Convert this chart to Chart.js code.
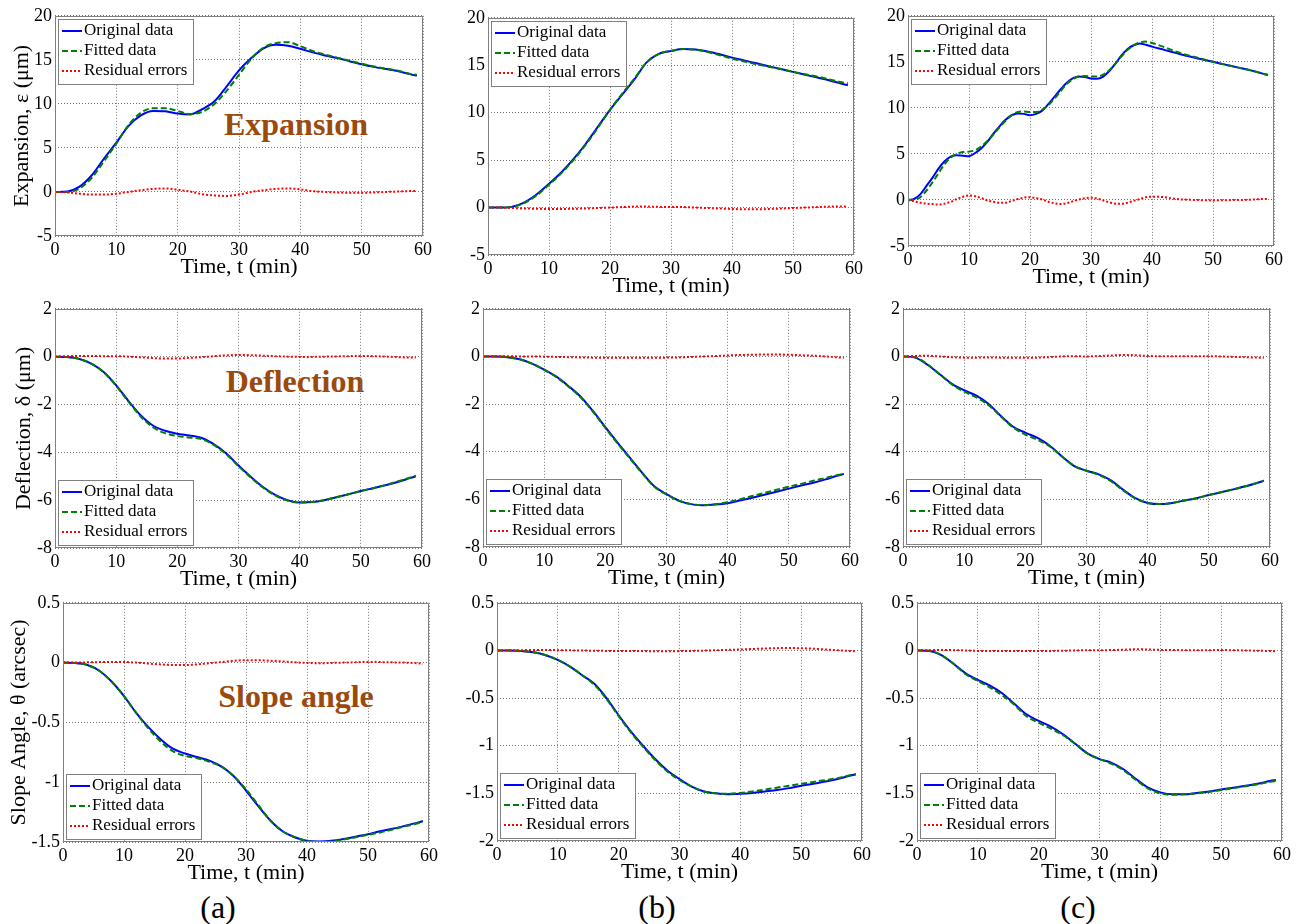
<!DOCTYPE html>
<html>
<head>
<meta charset="utf-8">
<script src="https://cdn.jsdelivr.net/npm/chart.js@4.4.1/dist/chart.umd.min.js"></script>
<style>
body{margin:0;background:#fff;width:1303px;height:924px;position:relative;overflow:hidden;font-family:'Liberation Serif','Times New Roman',serif;}
canvas{position:absolute;}
.tag{position:absolute;font-weight:bold;color:#9c4a0c;font-size:32px;line-height:32px;white-space:nowrap;transform:translateX(-50%);}
.sub{position:absolute;font-size:32px;line-height:32px;white-space:nowrap;transform:translateX(-50%);}
</style>
</head>
<body>
<div class="tag" style="left:296px;top:108px">Expansion</div>
<div class="tag" style="left:295px;top:365px">Deflection</div>
<div class="tag" style="left:296px;top:680px">Slope angle</div>
<div class="sub" style="left:218px;top:891px">(a)</div>
<div class="sub" style="left:657px;top:891px">(b)</div>
<div class="sub" style="left:1078px;top:891px">(c)</div>
<script>
// time grids (min)
const time = [0,2,4,6,8,10,12,14,16,18,20,22,24,26,28,30,32,34,36,38,40,42,44,46,48,50,52,54,56,58,59];
const timeFine = [0,1,2,3,4,5,6,7,8,9,10,11,12,13,14,15,16,17,18,19,20,21,22,23,24,25,26,27,28,29,30,31,32,33,34,35,36,37,38,39,40,42,44,46,48,50,52,54,56,58,59];
const xTicks = [0,10,20,30,40,50,60];
const legendLabels = ['Original data','Fitted data','Residual errors'];

// Expansion (um)
const expA_orig = [0,0.05,0.6,1.9,3.8,5.6,7.5,8.7,9.2,9.15,8.9,8.8,9.4,10.3,12.0,13.8,15.2,16.3,16.7,16.6,16.25,15.85,15.5,15.2,14.85,14.5,14.2,13.95,13.7,13.35,13.2];
const expA_fit  = [0,0,0.4,1.6,3.5,5.5,7.6,9.0,9.5,9.5,9.2,8.85,9.1,10.0,11.5,13.3,15.1,16.4,16.9,17.0,16.55,16.0,15.6,15.25,14.9,14.55,14.25,14.0,13.75,13.4,13.3];
const expA_res  = [0,-0.05,-0.2,-0.3,-0.3,-0.2,0,0.2,0.35,0.4,0.25,0.05,-0.25,-0.4,-0.45,-0.3,0,0.2,0.35,0.4,0.3,0.1,0,-0.05,-0.1,-0.1,-0.05,0,0.05,0.1,0.1];
const expB_orig = [0,0,0.1,0.55,1.4,2.5,3.7,5.1,6.7,8.5,10.3,11.9,13.5,15.3,16.2,16.5,16.7,16.65,16.45,16.15,15.8,15.5,15.2,14.9,14.6,14.3,14.0,13.7,13.4,13.05,12.9];
const expB_fit  = [0,0,0.08,0.5,1.3,2.4,3.6,5.0,6.6,8.4,10.3,12.0,13.6,15.3,16.2,16.5,16.7,16.65,16.4,16.05,15.7,15.4,15.1,14.85,14.6,14.3,14.05,13.8,13.5,13.2,13.1];
const expB_res  = [0,0,-0.05,-0.1,-0.12,-0.15,-0.15,-0.12,-0.1,-0.05,0,0.05,0.1,0.1,0.08,0.05,0.05,0,-0.05,-0.1,-0.15,-0.18,-0.18,-0.15,-0.1,-0.05,0,0.05,0.1,0.1,0.1];
const expC_orig = [0,0.1,0.6,1.5,2.4,3.4,4.2,4.7,4.85,4.8,4.75,5.1,5.6,6.3,7.2,8.0,8.7,9.2,9.4,9.35,9.2,9.35,9.7,10.4,11.2,12.0,12.7,13.2,13.4,13.35,13.2,13.15,13.4,14.0,14.8,15.7,16.4,16.8,17.0,16.85,16.65,16.3,15.95,15.6,15.3,15.0,14.7,14.4,14.1,13.75,13.55];
const expC_fit  = [0,0,0.3,1.0,1.9,2.9,3.9,4.6,5.0,5.2,5.25,5.4,5.8,6.4,7.1,7.9,8.6,9.2,9.55,9.6,9.55,9.55,9.8,10.3,11.0,11.8,12.6,13.1,13.4,13.45,13.4,13.4,13.6,14.1,14.8,15.6,16.3,16.8,17.1,17.2,17.05,16.6,16.1,15.7,15.35,15.0,14.7,14.4,14.1,13.75,13.55];
const expC_res  = [0,-0.15,-0.3,-0.4,-0.45,-0.5,-0.4,-0.2,0.1,0.35,0.5,0.4,0.2,-0.05,-0.2,-0.3,-0.3,-0.1,0.1,0.25,0.3,0.2,0.05,-0.2,-0.35,-0.45,-0.35,-0.15,0.05,0.2,0.25,0.15,-0.05,-0.25,-0.4,-0.4,-0.3,-0.1,0.1,0.3,0.35,0.3,0.1,0.02,-0.02,-0.05,-0.03,0,0.02,0.1,0.1];

// Deflection (um)
const defA_orig = [0,-0.02,-0.1,-0.3,-0.65,-1.2,-1.85,-2.45,-2.88,-3.1,-3.22,-3.3,-3.4,-3.67,-4.05,-4.55,-5.02,-5.45,-5.78,-6.0,-6.1,-6.08,-6.0,-5.88,-5.75,-5.62,-5.5,-5.38,-5.24,-5.08,-5.0];
const defA_fit  = [0,-0.02,-0.1,-0.3,-0.66,-1.22,-1.88,-2.5,-2.95,-3.2,-3.32,-3.38,-3.45,-3.7,-4.08,-4.58,-5.05,-5.47,-5.8,-6.02,-6.1,-6.08,-6.0,-5.88,-5.75,-5.62,-5.5,-5.37,-5.22,-5.06,-4.98];
const defA_res  = [0,0.02,0.03,0.03,0.02,0.02,0,-0.03,-0.06,-0.08,-0.08,-0.05,-0.02,0.02,0.05,0.07,0.06,0.04,0.02,0,-0.01,-0.01,0,0.01,0.02,0.03,0.02,0,-0.02,-0.04,-0.04];
const defB_orig = [0,0,-0.03,-0.12,-0.3,-0.55,-0.85,-1.25,-1.7,-2.3,-2.97,-3.62,-4.25,-4.88,-5.45,-5.78,-6.05,-6.2,-6.25,-6.22,-6.16,-6.05,-5.93,-5.81,-5.68,-5.55,-5.42,-5.3,-5.16,-5.0,-4.93];
const defB_fit  = [0,0,-0.03,-0.12,-0.3,-0.56,-0.87,-1.27,-1.73,-2.33,-3.0,-3.65,-4.28,-4.9,-5.47,-5.8,-6.06,-6.2,-6.24,-6.2,-6.12,-6.0,-5.86,-5.73,-5.6,-5.47,-5.35,-5.22,-5.1,-4.98,-4.93];
const defB_res  = [0,0.01,0.01,0,0,-0.01,-0.02,-0.03,-0.04,-0.05,-0.06,-0.06,-0.06,-0.06,-0.06,-0.05,-0.04,-0.02,0,0.02,0.04,0.06,0.07,0.08,0.08,0.07,0.05,0.03,0,-0.04,-0.05];
const defC_orig = [0,-0.05,-0.35,-0.75,-1.15,-1.42,-1.65,-2.0,-2.5,-2.95,-3.2,-3.42,-3.75,-4.2,-4.6,-4.8,-4.95,-5.2,-5.6,-5.95,-6.15,-6.2,-6.15,-6.05,-5.95,-5.82,-5.7,-5.58,-5.45,-5.3,-5.22];
const defC_fit  = [0,-0.04,-0.33,-0.75,-1.18,-1.48,-1.72,-2.05,-2.52,-2.98,-3.28,-3.5,-3.78,-4.2,-4.6,-4.8,-4.97,-5.24,-5.62,-5.96,-6.15,-6.2,-6.15,-6.05,-5.95,-5.82,-5.7,-5.58,-5.45,-5.3,-5.22];
const defC_res  = [0,0.02,0.03,0,-0.03,-0.05,-0.05,-0.04,-0.05,-0.06,-0.06,-0.05,-0.03,0,0.01,0,0.02,0.04,0.06,0.05,0.02,0.01,0.01,0.01,0.01,0.01,0,-0.02,-0.03,-0.05,-0.05];

// Slope angle (arcsec)
const slpA_orig = [0,-0.003,-0.02,-0.07,-0.16,-0.28,-0.42,-0.54,-0.64,-0.72,-0.76,-0.79,-0.82,-0.87,-0.95,-1.07,-1.2,-1.32,-1.41,-1.46,-1.49,-1.495,-1.49,-1.475,-1.455,-1.435,-1.41,-1.39,-1.365,-1.34,-1.325];
const slpA_fit  = [0,-0.003,-0.02,-0.07,-0.16,-0.28,-0.42,-0.55,-0.66,-0.74,-0.78,-0.8,-0.83,-0.87,-0.95,-1.06,-1.19,-1.32,-1.41,-1.46,-1.49,-1.5,-1.495,-1.48,-1.46,-1.44,-1.42,-1.395,-1.37,-1.345,-1.33];
const slpA_res  = [0,0,0.002,0.004,0.005,0.005,0,-0.008,-0.015,-0.02,-0.02,-0.015,-0.005,0.005,0.015,0.02,0.02,0.015,0.01,0.002,-0.003,-0.005,-0.003,0,0.003,0.005,0.004,0.002,0,-0.005,-0.01];
const slpB_orig = [0,0,-0.005,-0.02,-0.05,-0.1,-0.17,-0.26,-0.35,-0.5,-0.68,-0.85,-1.0,-1.14,-1.26,-1.35,-1.43,-1.48,-1.5,-1.51,-1.505,-1.495,-1.48,-1.465,-1.445,-1.42,-1.4,-1.375,-1.35,-1.315,-1.3];
const slpB_fit  = [0,0,-0.005,-0.02,-0.05,-0.1,-0.17,-0.26,-0.36,-0.51,-0.69,-0.86,-1.01,-1.15,-1.27,-1.36,-1.43,-1.48,-1.5,-1.505,-1.495,-1.48,-1.46,-1.44,-1.42,-1.4,-1.38,-1.36,-1.34,-1.31,-1.3];
const slpB_res  = [0,0.002,0.003,0.004,0.004,0.003,0.001,-0.001,-0.003,-0.005,-0.006,-0.006,-0.007,-0.008,-0.008,-0.007,-0.005,-0.002,0.002,0.006,0.01,0.015,0.02,0.024,0.025,0.023,0.018,0.01,0.002,-0.006,-0.008];
const slpC_orig = [0,-0.005,-0.05,-0.14,-0.24,-0.31,-0.37,-0.45,-0.56,-0.67,-0.74,-0.8,-0.88,-0.98,-1.08,-1.14,-1.18,-1.25,-1.35,-1.44,-1.49,-1.51,-1.51,-1.495,-1.48,-1.46,-1.44,-1.42,-1.4,-1.37,-1.36];
const slpC_fit  = [0,-0.004,-0.05,-0.14,-0.25,-0.32,-0.39,-0.47,-0.57,-0.69,-0.76,-0.82,-0.89,-0.98,-1.08,-1.14,-1.19,-1.26,-1.36,-1.45,-1.5,-1.515,-1.51,-1.5,-1.485,-1.465,-1.445,-1.425,-1.405,-1.38,-1.37];
const slpC_res  = [0,0.003,0.004,0.003,0,-0.005,-0.007,-0.007,-0.006,-0.006,-0.007,-0.005,-0.003,0,0.002,0.002,0.004,0.008,0.012,0.01,0.006,0.004,0.003,0.003,0.003,0.004,0.002,0,-0.003,-0.006,-0.008];

const FONT = "'Liberation Serif', 'Times New Roman', serif";
Chart.defaults.font.family = FONT;
Chart.defaults.color = '#000';

// panel placement: plot box edges in page pixels
const panels = [
  {t: time,     s: [expA_orig, expA_fit, expA_res], y: [-5, 20, 5],    L: 55,  R: 423,  T: 14,  B: 236, col: 0, title: 'Expansion, ε (μm)', tpad: 11, leg: 'top'},
  {t: time,     s: [expB_orig, expB_fit, expB_res], y: [-5, 20, 5],    L: 488, R: 854,  T: 16,  B: 255, col: 1, leg: 'top'},
  {t: timeFine, s: [expC_orig, expC_fit, expC_res], y: [-5, 20, 5],    L: 908, R: 1274, T: 14,  B: 246, col: 2, leg: 'top'},
  {t: time,     s: [defA_orig, defA_fit, defA_res], y: [-8, 2, 2],     L: 55,  R: 422,  T: 307, B: 548, col: 0, title: 'Deflection, δ (μm)', tpad: 13, leg: 'bottom'},
  {t: time,     s: [defB_orig, defB_fit, defB_res], y: [-8, 2, 2],     L: 483, R: 850,  T: 307, B: 547, col: 1, leg: 'bottom'},
  {t: time,     s: [defC_orig, defC_fit, defC_res], y: [-8, 2, 2],     L: 903, R: 1270, T: 307, B: 547, col: 2, leg: 'bottom'},
  {t: time,     s: [slpA_orig, slpA_fit, slpA_res], y: [-1.5, 0.5, 0.5], L: 63,  R: 429,  T: 601, B: 842, col: 0, title: 'Slope Angle, θ (arcsec)', tpad: 8, leg: 'bottom'},
  {t: time,     s: [slpB_orig, slpB_fit, slpB_res], y: [-2, 0.5, 0.5], L: 497, R: 862,  T: 601, B: 841, col: 1, leg: 'bottom'},
  {t: time,     s: [slpC_orig, slpC_fit, slpC_res], y: [-2, 0.5, 0.5], L: 917, R: 1282, T: 601, B: 841, col: 2, leg: 'bottom'}
];
const colLeft = [0, 440, 870];
const lineStyles = [
  {borderColor: '#0000ff', borderWidth: 2, borderDash: [], order: 3},
  {borderColor: '#008000', borderWidth: 2, borderDash: [6, 3], order: 2},
  {borderColor: '#ff0000', borderWidth: 2, borderDash: [2, 2], order: 1}
];

// plot frame + boxed legend (MATLAB style)
const frameLegend = {
  id: 'frameLegend',
  afterDraw(chart, args, opts) {
    const {ctx, chartArea: a} = chart;
    ctx.save();
    ctx.setLineDash([]);
    ctx.strokeStyle = '#808080';
    ctx.lineWidth = 1;
    ctx.strokeRect(Math.round(a.left) + 0.5, Math.round(a.top) + 0.5, Math.round(a.right - a.left) - 1, Math.round(a.bottom - a.top) - 1);
    const w = 135, h = 65;
    const x = Math.round(a.left) + 3;
    const y = opts.corner === 'top' ? Math.round(a.top) + 3 : Math.round(a.bottom) - 3 - h;
    ctx.fillStyle = '#fff';
    ctx.fillRect(x, y, w, h);
    ctx.strokeRect(x + 0.5, y + 0.5, w, h);
    ctx.font = '17px ' + FONT;
    ctx.textBaseline = 'middle';
    chart.data.datasets.forEach((ds, i) => {
      const cy = y + 12 + i * 20;
      ctx.strokeStyle = ds.borderColor;
      ctx.lineWidth = ds.borderWidth;
      ctx.setLineDash(ds.borderDash || []);
      ctx.beginPath();
      ctx.moveTo(x + 4, cy);
      ctx.lineTo(x + 24, cy);
      ctx.stroke();
      ctx.fillStyle = '#000';
      ctx.fillText(ds.label, x + 26, cy);
    });
    ctx.restore();
  }
};

panels.forEach(p => {
  const cl = colLeft[p.col];
  const ct = p.T - 12;
  const yw = p.L - cl;
  const cw = p.R - cl + 16;
  const ch = p.B - ct + 50;
  const canvas = document.createElement('canvas');
  canvas.width = cw;
  canvas.height = ch;
  canvas.style.left = cl + 'px';
  canvas.style.top = ct + 'px';
  document.body.appendChild(canvas);

  const datasets = p.s.map((vals, k) => Object.assign({
    label: legendLabels[k],
    data: p.t.map((t, i) => ({x: t, y: vals[i]})),
    pointRadius: 0,
    fill: false,
    cubicInterpolationMode: 'monotone'
  }, lineStyles[k]));

  new Chart(canvas, {
    type: 'line',
    data: {datasets},
    plugins: [frameLegend],
    options: {
      responsive: false,
      animation: false,
      devicePixelRatio: 1,
      layout: {padding: {top: 12, right: 16, left: 0, bottom: 0}},
      plugins: {
        legend: {display: false},
        tooltip: {enabled: false},
        frameLegend: {corner: p.leg}
      },
      scales: {
        x: {
          type: 'linear',
          min: 0, max: 60,
          afterFit: s => { s.height = 50; },
          afterBuildTicks: s => { s.ticks = xTicks.map(v => ({value: v})); },
          ticks: {font: {size: 18}, padding: 3, maxRotation: 0},
          grid: {color: '#777', drawTicks: false},
          border: {display: false, dash: [1, 2]},
          title: {display: true, text: 'Time, t (min)', font: {size: 22, lineHeight: 1}, padding: {top: 0, bottom: 8}}
        },
        y: {
          type: 'linear',
          min: p.y[0], max: p.y[1],
          afterFit: s => { s.width = yw; },
          ticks: {stepSize: p.y[2], font: {size: 18}, padding: 3, callback: v => String(v)},
          grid: {color: '#777', drawTicks: false},
          border: {display: false, dash: [1, 2]},
          title: {display: !!p.title, text: p.title || '', font: {size: 22, lineHeight: 1}, padding: {top: p.tpad || 0, bottom: 0}}
        }
      }
    }
  });
});
</script>
</body>
</html>
